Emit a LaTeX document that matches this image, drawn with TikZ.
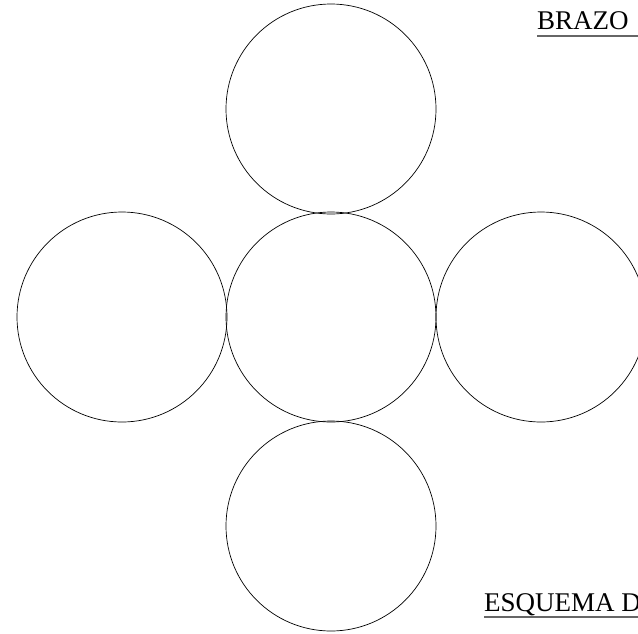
\documentclass[tikz,border=0pt]{standalone}
\usepackage{fontspec}
\setmainfont{Liberation Serif}
\begin{document}
\begin{tikzpicture}[x=1pt,y=-1pt,
  disc/.style={circle,draw=black,line width=0.7pt,minimum size=210pt,inner sep=0pt},
  label/.style={anchor=base west,inner sep=0pt,font=\fontsize{27}{32}\selectfont},
  uline/.style={draw=black!60,line width=1.2pt}]
\useasboundingbox (0,0) rectangle (638,633);
\clip (0,0) rectangle (638,633);
\node[disc] (top) at (331,109) {};
\node[disc] (mid) at (331,317) {};
\node[disc] (bot) at (331,526) {};
\node[disc] (lft) at (122,317) {};
\node[disc] (rgt) at (541,317) {};
\node[label] (brazo) at (537,29) {BRAZO};
\draw[uline] (537,36) -- (640,36);
\node[label] (esq) at (484,611) {ESQUEMA D};
\draw[uline] (484,617) -- (640,617);
\end{tikzpicture}
\end{document}
